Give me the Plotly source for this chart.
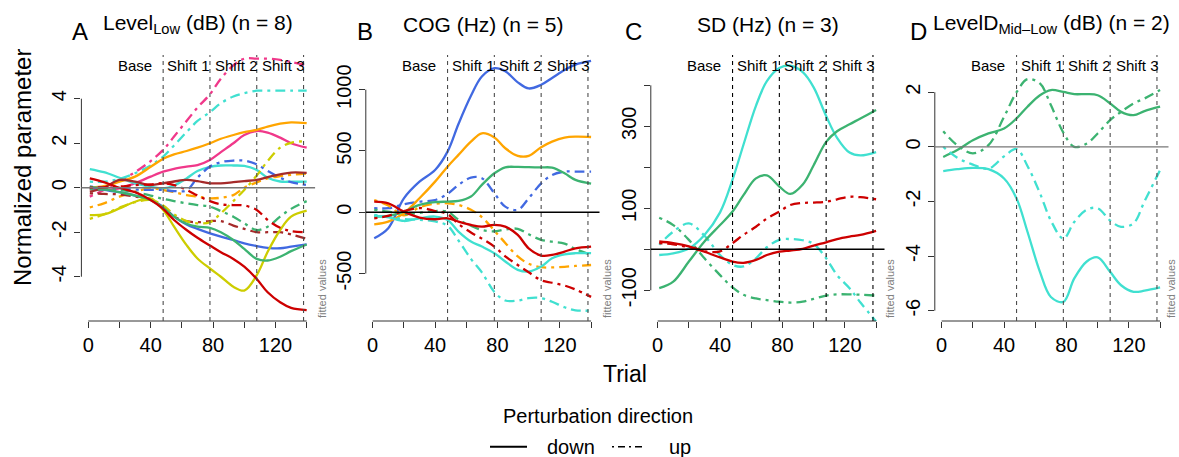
import plotly.graph_objects as go

W, H = 1179, 457

# ---------------- data ----------------
TRIALS = [1, 10, 20, 30, 40, 48, 55, 63, 70, 78, 85, 93, 100, 108, 115, 123, 130, 140]
TICK_X = [0, 20, 40, 60, 80, 100, 120, 140]
TICK_X_TEXT = ['0', '', '40', '', '80', '', '120', '']
PHASE_BOUNDS = [48, 78, 108, 138]
PHASE_LABELS = ['Base', 'Shift 1', 'Shift 2', 'Shift 3']
PHASE_LABEL_X = [30, 64.5, 95, 125.4]

PANEL_LETTERS = ['A', 'B', 'C', 'D']
PANEL_TITLES = ['Level<sub>Low</sub> (dB) (n = 8)', 'COG (Hz) (n = 5)',
                'SD (Hz) (n = 3)', 'LevelD<sub>Mid\u2013Low</sub> (dB) (n = 2)']

# Panel A: Level_Low (dB)
A_pink_down = [-0.05, -0.1, -0.03, 0.2, 0.5, 0.72, 0.85, 0.95, 1.02, 1.25, 1.6, 2.0, 2.37, 2.55, 2.48, 2.25, 2.0, 1.8]
A_pink_up = [-0.4, -0.1, 0.3, 0.7, 1.2, 1.7, 2.3, 3.0, 3.6, 4.2, 4.9, 5.5, 5.8, 5.8, 5.8, 5.75, 5.65, 5.5]
A_cyan_down = [0.84, 0.7, 0.45, 0.2, 0.05, -0.03, 0.1, 0.42, 0.75, 0.94, 1.0, 1.0, 0.98, 0.8, 0.45, 0.28, 0.27, 0.27]
A_cyan_up = [0.27, 0.27, 0.4, 0.65, 1.0, 1.4, 1.9, 2.5, 3.0, 3.4, 3.8, 4.1, 4.25, 4.36, 4.36, 4.36, 4.36, 4.36]
A_orange_down = [0.0, 0.07, 0.27, 0.5, 0.94, 1.3, 1.5, 1.65, 1.8, 2.0, 2.2, 2.37, 2.5, 2.6, 2.75, 2.88, 2.94, 2.9]
A_orange_up = [-0.88, -0.7, -0.4, -0.18, -0.02, -0.1, -0.2, -0.33, -0.4, -0.48, -0.45, -0.33, 0.0, 0.24, 0.42, 0.52, 0.58, 0.64]
A_blue_down = [0.0, -0.1, -0.2, -0.35, -0.55, -0.85, -1.3, -1.65, -1.85, -2.05, -2.2, -2.35, -2.5, -2.62, -2.7, -2.72, -2.65, -2.55]
A_blue_up = [0.05, 0.0, -0.05, -0.08, -0.1, -0.1, -0.15, -0.12, 0.45, 0.95, 1.15, 1.22, 1.22, 1.05, 0.75, 0.45, 0.25, 0.12]
A_brown_down = [-0.18, 0.0, 0.35, 0.27, 0.12, 0.2, 0.28, 0.35, 0.3, 0.2, 0.2, 0.25, 0.3, 0.35, 0.48, 0.6, 0.68, 0.67]
A_brown_up = [-0.25, -0.28, -0.3, -0.4, -0.55, -0.9, -1.3, -1.5, -1.55, -1.5, -1.5, -1.7, -1.85, -2.0, -2.0, -2.0, -2.1, -2.3]
A_yellow_down = [-1.23, -1.2, -0.93, -0.63, -0.48, -1.0, -1.75, -2.58, -3.18, -3.63, -4.0, -4.45, -4.62, -3.93, -2.88, -1.9, -1.3, -1.03]
A_yellow_up = [-1.4, -1.2, -0.9, -0.65, -0.55, -0.8, -1.2, -1.5, -1.6, -1.55, -1.15, -0.6, -0.1, 0.55, 1.2, 1.8, 2.02, 2.1]
A_red_down = [0.42, 0.25, 0.0, -0.2, -0.55, -0.95, -1.45, -1.9, -2.25, -2.6, -2.9, -3.2, -3.55, -4.1, -4.7, -5.15, -5.4, -5.5]
A_red_up = [0.0, 0.02, 0.05, 0.12, 0.15, 0.2, 0.12, -0.1, -0.35, -0.6, -0.75, -0.78, -0.8, -1.0, -1.45, -1.8, -1.95, -2.0]
A_green_down = [0.05, -0.05, -0.2, -0.35, -0.55, -0.9, -1.3, -1.62, -1.75, -1.8, -2.0, -2.35, -2.75, -3.2, -3.27, -3.1, -2.85, -2.55]
A_green_up = [-0.05, -0.08, -0.1, -0.2, -0.35, -0.5, -0.6, -0.7, -0.78, -0.85, -1.05, -1.3, -1.6, -1.9, -1.75, -1.3, -0.95, -0.6]

# Panel B: COG (Hz)
B_blue_down = [-212, -130, 114, 250, 345, 495, 720, 950, 1107, 1175, 1150, 1060, 1010, 1040, 1095, 1160, 1205, 1235]
B_blue_up = [33, 33, 65, 87, 100, 150, 223, 283, 277, 155, 46, 20, 114, 236, 304, 332, 332, 332]
B_orange_down = [-98, -76, -8, 114, 250, 372, 468, 576, 644, 610, 522, 460, 460, 530, 576, 609, 617, 614]
B_orange_up = [100, 55, -25, 40, 70, 73, 60, 20, -40, -150, -250, -360, -420, -448, -450, -445, -438, -430]
B_green_down = [-35, -30, 5, 60, 82, 87, 92, 128, 223, 318, 367, 370, 368, 366, 364, 318, 264, 234]
B_green_up = [20, 5, -15, -5, 10, 5, -60, -110, -145, -155, -140, -135, -180, -225, -240, -255, -300, -348]
B_red_down = [87, 73, 5, -43, -57, -49, -76, -103, -117, -103, -117, -185, -294, -353, -348, -321, -294, -280]
B_red_up = [-49, -30, 10, 35, 10, -15, -95, -165, -215, -280, -360, -430, -490, -555, -575, -598, -630, -690]
B_cyan_down = [-27, -40, -71, -49, -35, -63, -158, -239, -280, -334, -402, -470, -484, -443, -375, -343, -334, -334]
B_cyan_up = [-22, -40, -55, -62, -75, -110, -230, -380, -490, -650, -720, -720, -700, -700, -730, -775, -800, -802]

# Panel C: SD (Hz)
C_cyan_down = [-14, -10, 2, 35, 90, 170, 255, 350, 410, 442, 448, 432, 395, 325, 272, 236, 229, 237]
C_cyan_up = [11, 43, 63, 33, -14, -38, -42, -22, 5, 23, 25, 22, 13, -22, -63, -95, -130, -176]
C_green_down = [-95, -79, -30, 19, 59, 92, 132, 173, 180, 153, 135, 158, 205, 262, 288, 305, 319, 340]
C_green_up = [77, 59, 23, -22, -63, -93, -111, -120, -124, -128, -130, -128, -121, -113, -110, -110, -111, -113]
C_red_down = [19, 15, 7, -6, -20, -30, -33, -26, -14, -6, -3, 1, 9, 17, 25, 31, 35, 45]
C_red_up = [15, 12, 5, -5, -5, 15, 35, 55, 75, 92, 108, 113, 114, 116, 122, 128, 127, 122]

# Panel D: LevelD_Mid-Low (dB)
D_green_down = [-0.37, -0.12, 0.24, 0.49, 0.67, 1.04, 1.47, 1.89, 2.08, 2.01, 1.93, 1.93, 1.89, 1.59, 1.28, 1.16, 1.31, 1.47]
D_green_up = [0.57, 0.06, -0.24, 0.06, 1.1, 2.0, 2.48, 2.32, 1.53, 0.52, 0.0, 0.12, 0.49, 0.98, 1.28, 1.59, 1.77, 2.08]
D_cyan_down = [-0.89, -0.82, -0.77, -0.82, -1.16, -1.89, -3.11, -4.58, -5.5, -5.68, -4.82, -4.2, -4.05, -4.58, -5.07, -5.31, -5.27, -5.15]
D_cyan_up = [0.0, -0.4, -0.65, -0.8, -0.35, -0.08, -0.7, -1.7, -2.7, -3.36, -2.75, -2.3, -2.25, -2.7, -2.93, -2.8, -2.0, -0.85]

Y_TICKS = [[-4, -2, 0, 2, 4], [-500, 0, 500, 1000], [-100, 0, 100, 200, 300, 400], [-6, -4, -2, 0, 2]]
Y_TICK_TEXT = [['-4', '-2', '0', '2', '4'], ['-500', '0', '500', '1000'],
               ['-100', '', '100', '', '300', ''], ['-6', '-4', '-2', '0', '2']]
Y_RANGES = [[-5.99, 6.28], [-887, 1340], [-175, 491], [-6.38, 3.62]]

COL = {'pink': '#F0388A', 'cyan': '#40E0D0', 'orange': '#FFA500', 'blue': '#4169E1',
       'brown': '#A52A2A', 'yellow': '#CDCD00', 'red': '#CD0000', 'green': '#3CB371'}

PANEL_SERIES = [
    [('pink', A_pink_down, A_pink_up), ('cyan', A_cyan_down, A_cyan_up),
     ('orange', A_orange_down, A_orange_up), ('blue', A_blue_down, A_blue_up),
     ('brown', A_brown_down, A_brown_up), ('yellow', A_yellow_down, A_yellow_up),
     ('green', A_green_down, A_green_up), ('red', A_red_down, A_red_up)],
    [('blue', B_blue_down, B_blue_up), ('orange', B_orange_down, B_orange_up),
     ('green', B_green_down, B_green_up), ('cyan', B_cyan_down, B_cyan_up),
     ('red', B_red_down, B_red_up)],
    [('cyan', C_cyan_down, C_cyan_up), ('green', C_green_down, C_green_up),
     ('red', C_red_down, C_red_up)],
    [('green', D_green_down, D_green_up), ('cyan', D_cyan_down, D_cyan_up)],
]

# ---------------- layout geometry ----------------
LEFTS = [81.4, 365.8, 650.8, 934.8]
PW = 233.7
TOP, BOTTOM = 48, 321
XR = [-4.4, 145.4]
VLINE_COL = ['#4d4d4d', '#4d4d4d', '#000000', '#4d4d4d']
ZERO_COL = ['#777777', '#000000', '#000000', '#777777']
LETTER_X = [80, 365, 633, 918]
FITTED_X = [322, 607, 890, 1171]
FONT = 'Liberation Sans, Arial, sans-serif'
DASHDOT = '3px,5px,10px,5px'


def px(x):
    return x / W


def py(y):
    return 1 - y / H


fig = go.Figure()
layout = dict(width=W, height=H, margin=dict(l=0, r=0, t=0, b=0),
              paper_bgcolor='white', plot_bgcolor='white', showlegend=False,
              font=dict(family=FONT, color='black'))
shapes, annots = [], []

for i in range(4):
    xa = 'x' if i == 0 else f'x{i+1}'
    ya = 'y' if i == 0 else f'y{i+1}'
    for cname, down, up in PANEL_SERIES[i]:
        fig.add_trace(go.Scatter(x=TRIALS, y=up, mode='lines', xaxis=xa, yaxis=ya,
                                 line=dict(color=COL[cname], width=2.3, dash=DASHDOT,
                                           shape='spline', smoothing=1.0)))
        fig.add_trace(go.Scatter(x=TRIALS, y=down, mode='lines', xaxis=xa, yaxis=ya,
                                 line=dict(color=COL[cname], width=2.3,
                                           shape='spline', smoothing=1.0)))
    left = LEFTS[i]
    layout['xaxis' if i == 0 else f'xaxis{i+1}'] = dict(
        domain=[px(left), px(left + PW)], range=XR, anchor=ya,
        tickvals=TICK_X, ticktext=TICK_X_TEXT, ticks='outside', ticklen=6,
        tickwidth=1, tickcolor='#333', showline=False, showgrid=False, zeroline=False,
        tickfont=dict(size=20, color='black'))
    layout['yaxis' if i == 0 else f'yaxis{i+1}'] = dict(
        domain=[py(BOTTOM), py(TOP)], range=Y_RANGES[i], anchor=xa,
        tickvals=Y_TICKS[i], ticktext=Y_TICK_TEXT[i], ticks='outside', ticklen=6,
        tickwidth=1, tickcolor='#333', tickangle=-90, showline=False, showgrid=False,
        zeroline=False, tickfont=dict(size=20, color='black'))
    xd, yd = f'{xa} domain', f'{ya} domain'
    # axis lines spanning first to last tick
    shapes.append(dict(type='line', xref=xa, yref=yd, x0=TICK_X[0], x1=TICK_X[-1], y0=0, y1=0,
                       line=dict(color='#333', width=1)))
    shapes.append(dict(type='line', xref=xd, yref=ya, x0=0, x1=0, y0=Y_TICKS[i][0], y1=Y_TICKS[i][-1],
                       line=dict(color='#333', width=1)))
    # zero line
    shapes.append(dict(type='line', xref=xd, yref=ya, x0=0, x1=1, y0=0, y1=0, layer='above',
                       line=dict(color=ZERO_COL[i], width=1.3)))
    # phase boundaries
    for b in PHASE_BOUNDS:
        shapes.append(dict(type='line', xref=xa, yref=yd, x0=b, x1=b, y0=0, y1=(BOTTOM - 55) / (BOTTOM - TOP),
                           layer='above', line=dict(color=VLINE_COL[i], width=1.1, dash='4px,4px')))
    for lab, lx in zip(PHASE_LABELS, PHASE_LABEL_X):
        annots.append(dict(text=lab, xref=xa, x=lx, yref='paper', y=py(65.5), showarrow=False,
                           xanchor='center', yanchor='middle', font=dict(size=15, color='black')))
    # panel letter and title
    annots.append(dict(text=PANEL_LETTERS[i], xref='paper', x=px(LETTER_X[i]), yref='paper', y=py(31.5),
                       showarrow=False, xanchor='center', yanchor='middle', font=dict(size=24)))
    annots.append(dict(text=PANEL_TITLES[i], xref='paper', x=px(left + PW / 2), yref='paper', y=py(24.5),
                       showarrow=False, xanchor='center', yanchor='middle', font=dict(size=21)))
    annots.append(dict(text='fitted values', xref='paper', x=px(FITTED_X[i]), yref='paper', y=py(289),
                       showarrow=False, xanchor='center', yanchor='middle', textangle=-90,
                       font=dict(size=11, color='#808080')))

# common axis titles
annots.append(dict(text='Trial', xref='paper', x=px(625), yref='paper', y=py(373.5), showarrow=False,
                   xanchor='center', yanchor='middle', font=dict(size=23)))
annots.append(dict(text='Normalized parameter', xref='paper', x=px(22), yref='paper', y=py(168),
                   showarrow=False, xanchor='center', yanchor='middle', textangle=-90, font=dict(size=24)))

# legend (drawn manually)
annots.append(dict(text='Perturbation direction', xref='paper', x=px(598), yref='paper', y=py(416),
                   showarrow=False, xanchor='center', yanchor='middle', font=dict(size=20)))
shapes.append(dict(type='line', xref='paper', yref='paper', x0=px(490), x1=px(527), y0=py(446.7), y1=py(446.7),
                   line=dict(color='black', width=2)))
shapes.append(dict(type='line', xref='paper', yref='paper', x0=px(612), x1=px(645), y0=py(446.7), y1=py(446.7),
                   line=dict(color='black', width=1.5, dash='2px,4px,7px,4px')))
annots.append(dict(text='down', xref='paper', x=px(571), yref='paper', y=py(447), showarrow=False,
                   xanchor='center', yanchor='middle', font=dict(size=20)))
annots.append(dict(text='up', xref='paper', x=px(680), yref='paper', y=py(447), showarrow=False,
                   xanchor='center', yanchor='middle', font=dict(size=20)))

layout['shapes'] = shapes
layout['annotations'] = annots
fig.update_layout(**layout)
fig.write_html('out.html')
